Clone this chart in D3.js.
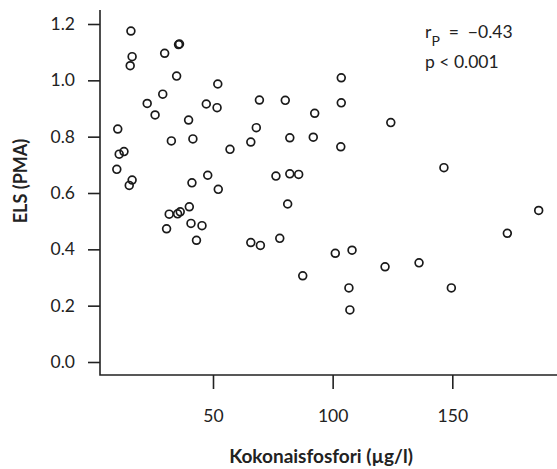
<!DOCTYPE html>
<html>
<head>
<meta charset="utf-8">
<script src="https://cdn.jsdelivr.net/npm/d3@7/dist/d3.min.js"></script>
<style>
  html, body { margin: 0; padding: 0; background: #fff; }
  svg { display: block; }
  text { font-family: Lato, "Open Sans", sans-serif; fill: #222; }
</style>
</head>
<body>
<svg id="chart" width="557" height="469"></svg>
<script>
// Data (total phosphorus µg/l vs ELS (PMA))
const xValues = [15.7, 16.2, 15.4, 29.8, 35.6, 36.0, 34.8, 22.5, 29.0, 25.8, 39.8, 10.2, 32.6, 41.6,
  12.8, 10.8, 9.8, 16.2, 15.0, 41.2, 52.0, 103.6, 103.6, 47.2, 51.7, 69.4, 80.2, 92.5, 68.1,
  65.8, 82.1, 91.9, 103.4, 57.1, 47.8, 52.2, 76.3, 82.1, 85.8, 81.2, 124.3, 146.5, 30.6,
  31.7, 35.2, 36.3, 40.1, 40.8, 45.4, 43.1, 65.8, 69.8, 77.9, 87.5, 101.1, 108.1, 106.8,
  107.2, 121.9, 136.1, 149.6, 173.0, 186.1];
const yValues = [1.175, 1.084, 1.052, 1.096, 1.127, 1.129, 1.015, 0.918, 0.951, 0.877, 0.859, 0.827, 0.785, 0.792,
  0.747, 0.738, 0.684, 0.646, 0.627, 0.636, 0.987, 1.009, 0.920, 0.916, 0.903, 0.930, 0.929, 0.883, 0.832,
  0.781, 0.796, 0.798, 0.764, 0.755, 0.663, 0.613, 0.660, 0.668, 0.666, 0.561, 0.850, 0.690, 0.473,
  0.525, 0.526, 0.533, 0.551, 0.492, 0.484, 0.432, 0.424, 0.414, 0.439, 0.306, 0.386, 0.397, 0.263,
  0.185, 0.338, 0.352, 0.263, 0.457, 0.538];
const xTicks = [50, 100, 150];
const yTicks = [0.0, 0.2, 0.4, 0.6, 0.8, 1.0, 1.2];
const xTitle = "Kokonaisfosfori (µg/l)";
const yTitle = "ELS (PMA)";

const svg = d3.select("#chart");
const frame = { left: 100, right: 557, top: 10, bottom: 375 };

const x = d3.scaleLinear().domain([0, 200]).range([93.35, 93.35 + 2.393 * 200]);
const y = d3.scaleLinear().domain([0, 1.2]).range([362, 24]);

// frame (L-shaped)
svg.append("path")
  .attr("d", `M${frame.left},${frame.top}V${frame.bottom}H${frame.right}`)
  .attr("fill", "none").attr("stroke", "#222").attr("stroke-width", 1.6);

// y axis
const yAxis = d3.axisLeft(y).tickValues(yTicks).tickFormat(d3.format(".1f"))
  .tickSize(12).tickPadding(13);
const gy = svg.append("g").attr("transform", `translate(${frame.left},0)`).call(yAxis);
gy.select(".domain").remove();
gy.selectAll(".tick line").attr("stroke", "#222").attr("stroke-width", 1.6);
gy.selectAll(".tick text").style("font-size", "17.5px").attr("fill", "#222");

// x axis
const xAxis = d3.axisBottom(x).tickValues(xTicks).tickFormat(d3.format("d"))
  .tickSize(14).tickPadding(21);
const gx = svg.append("g").attr("transform", `translate(0,${frame.bottom})`).call(xAxis);
gx.select(".domain").remove();
gx.selectAll(".tick line").attr("stroke", "#222").attr("stroke-width", 1.6);
gx.selectAll(".tick text").style("font-size", "17.5px").attr("fill", "#222");

// points
svg.append("g").selectAll("circle")
  .data(xValues.map((v, i) => [v, yValues[i]]))
  .join("circle")
  .attr("cx", d => x(d[0]))
  .attr("cy", d => y(d[1]))
  .attr("r", 3.9)
  .attr("fill", "none")
  .attr("stroke", "#1a1a1a")
  .attr("stroke-width", 1.7);

// axis titles
svg.append("text")
  .attr("x", 321).attr("y", 463)
  .attr("text-anchor", "middle")
  .style("font-size", "19px").style("font-weight", "bold")
  .text(xTitle);

svg.append("text")
  .attr("transform", "translate(27,181) rotate(-90)")
  .attr("text-anchor", "middle")
  .style("font-size", "18px").style("font-weight", "bold")
  .text(yTitle);

// annotation
const ann = svg.append("text").attr("x", 425).attr("y", 38).style("font-size", "17.5px");
ann.append("tspan").text("r");
ann.append("tspan").attr("dy", 8).style("font-size", "14px").text("P");
ann.append("tspan").attr("dy", -8).attr("xml:space", "preserve").text("  =  \u22120.43");

svg.append("text").attr("x", 425).attr("y", 68).style("font-size", "17.5px")
  .text("p < 0.001");
</script>
</body>
</html>
